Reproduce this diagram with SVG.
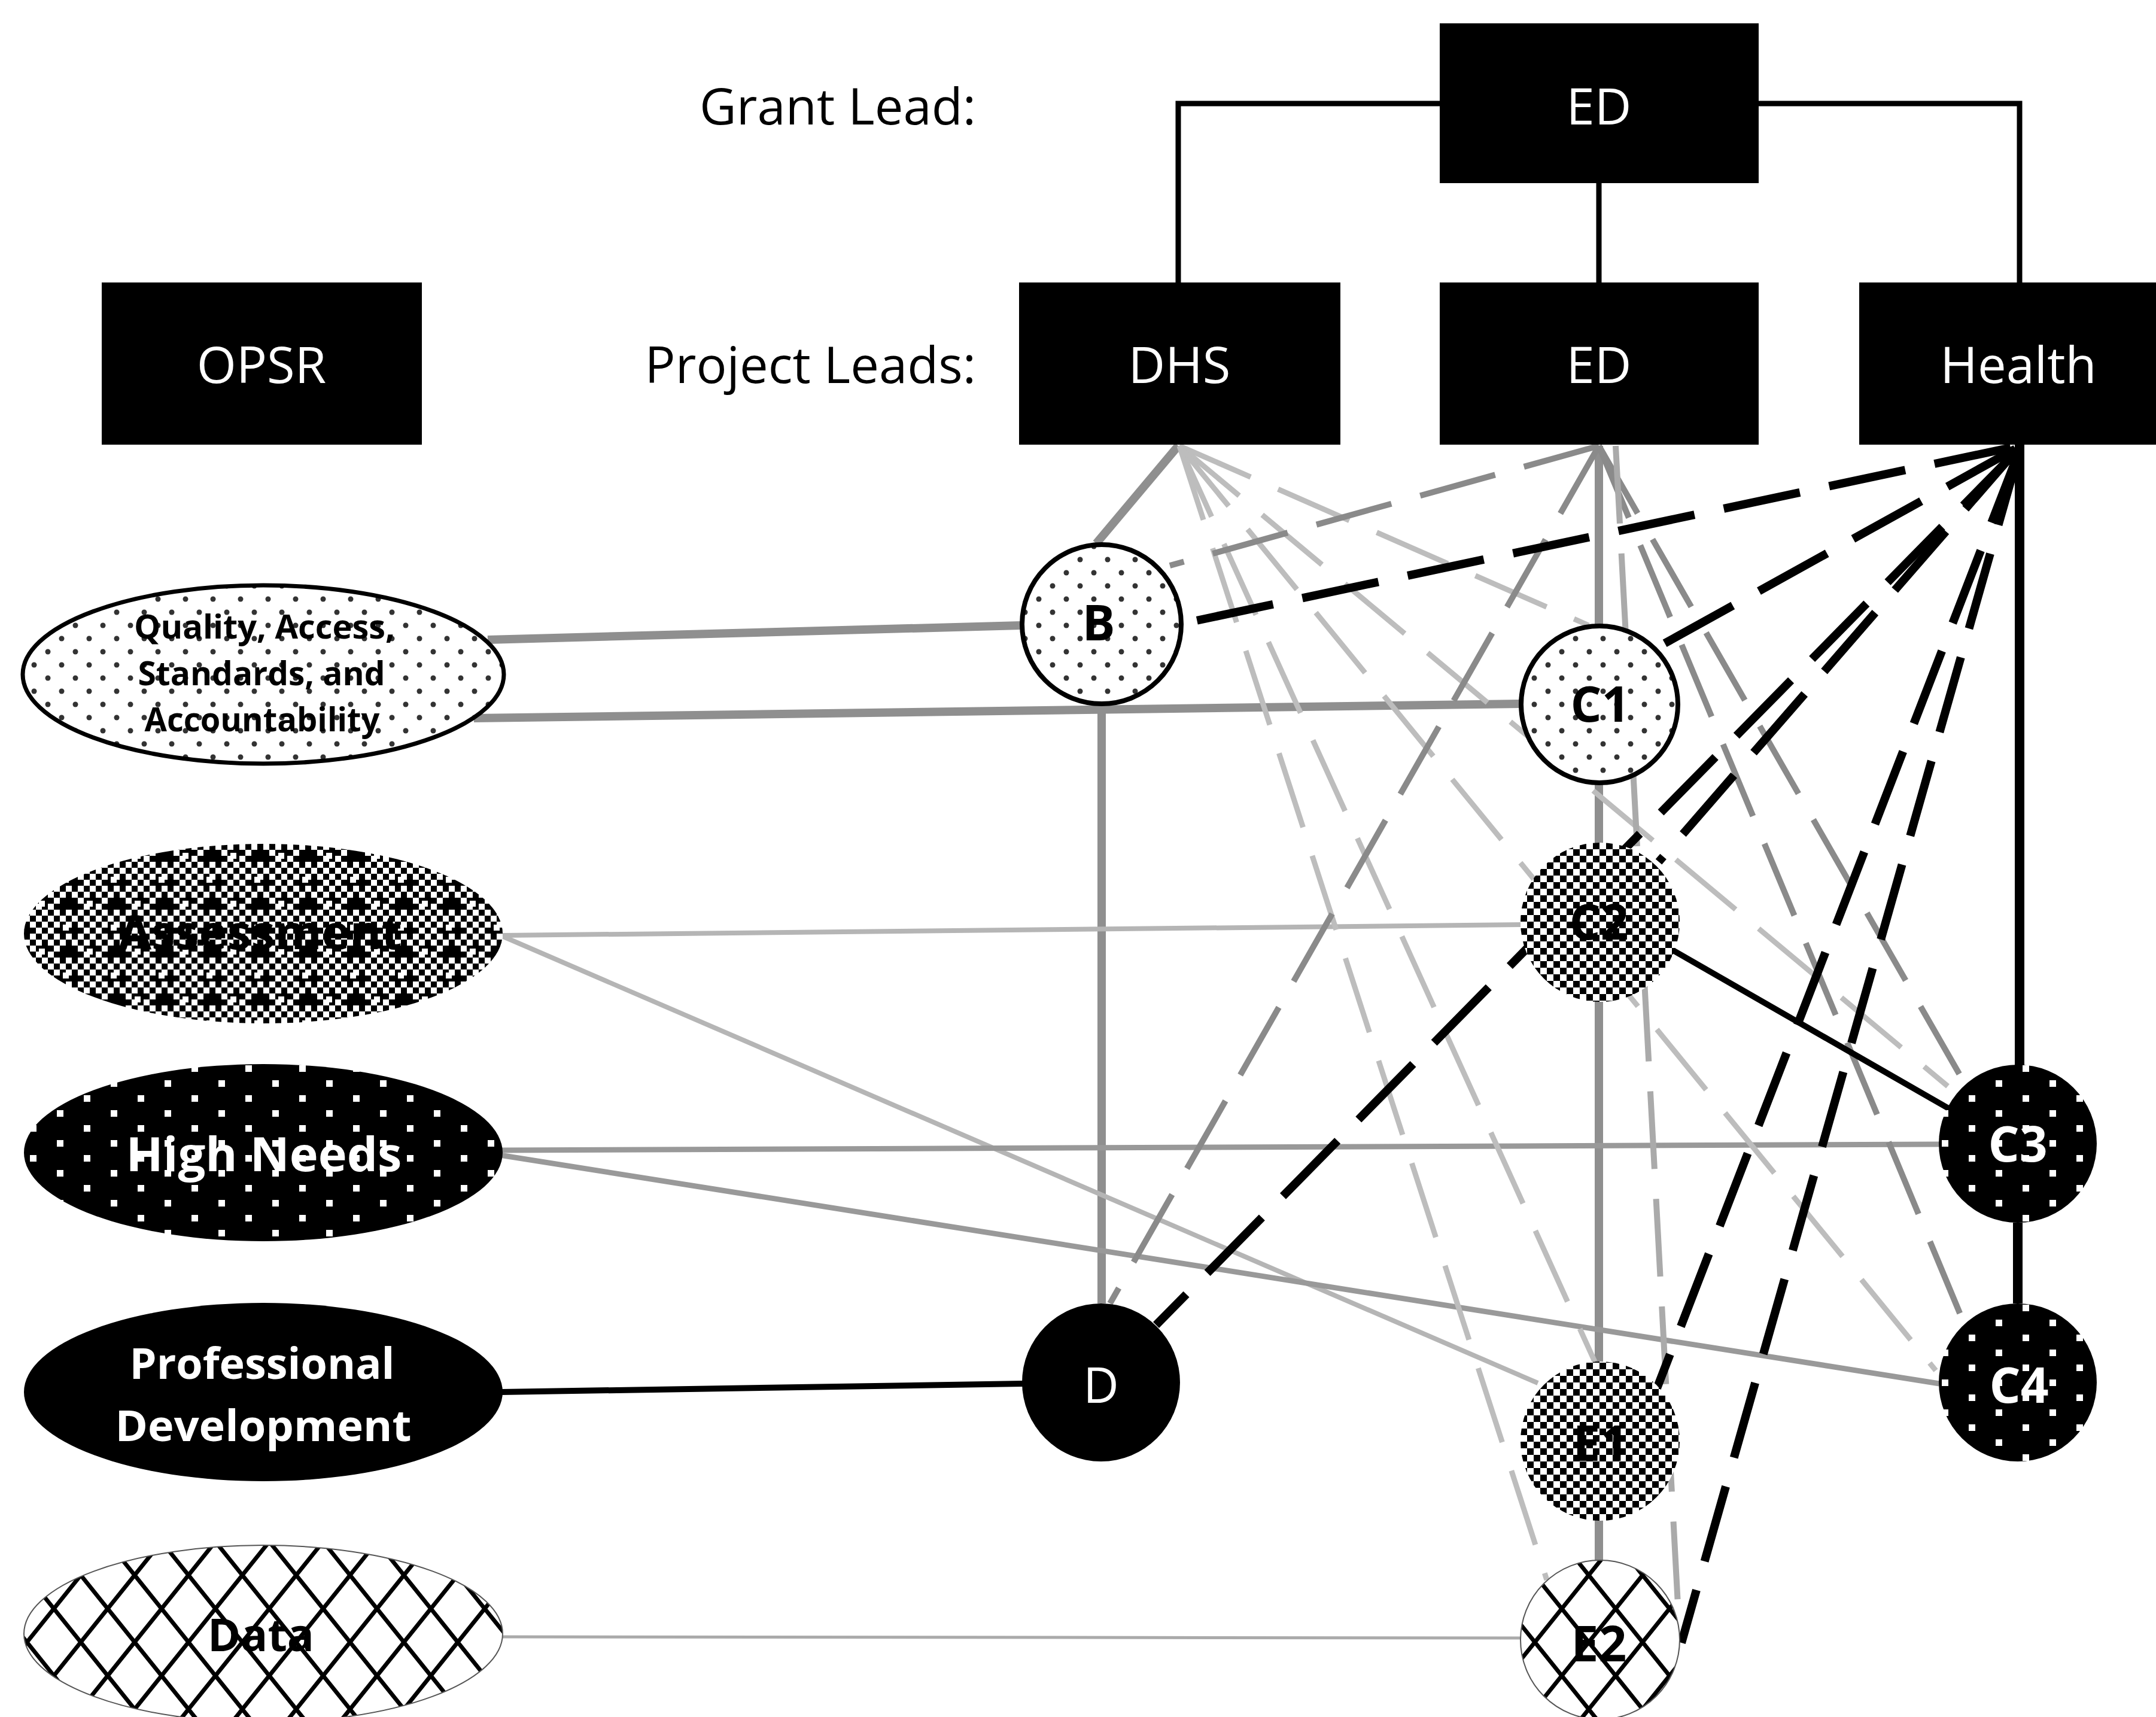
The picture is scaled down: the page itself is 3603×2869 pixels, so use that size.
<svg xmlns="http://www.w3.org/2000/svg" width="3603" height="2869" viewBox="0 0 3603 2869">
<style>
.lbl{font-family:"Open Sans","Liberation Sans",sans-serif;font-size:85px;fill:#000}
.box{fill:#000}
.boxt{font-family:"Open Sans","Liberation Sans",sans-serif;font-size:85px;fill:#fff;text-anchor:middle}
.et{font-family:"Open Sans","Liberation Sans",sans-serif;font-weight:bold;text-anchor:middle}
.ct{font-family:"Open Sans","Liberation Sans",sans-serif;font-weight:bold;font-size:82px;text-anchor:middle}
.tree{stroke:#000;stroke-width:9;fill:none}
.gs{stroke:#8f8f8f;stroke-width:14;fill:none}
.gl{stroke:#b5b5b5;stroke-width:8;fill:none}
.gm{stroke:#999;stroke-width:9;fill:none}
.bs{stroke:#000;fill:none}
.bd{stroke:#000;stroke-width:14;stroke-dasharray:130 50;fill:none}
.ged{stroke:#8a8a8a;stroke-width:10;stroke-dasharray:130 50;fill:none}
.gdh{stroke:#bdbdbd;stroke-width:9;stroke-dasharray:130 50;fill:none}
</style>
<defs>
<pattern id="dots" width="46" height="44" patternUnits="userSpaceOnUse">
<rect width="46" height="44" fill="#fff"/>
<circle cx="11" cy="11" r="4.5" fill="#333"/>
<circle cx="34" cy="33" r="4.5" fill="#333"/>
</pattern>
<pattern id="wdots" width="90" height="50" patternUnits="userSpaceOnUse">
<rect width="90" height="50" fill="#000"/>
<rect x="5" y="5" width="11" height="11" fill="#fff"/>
<rect x="50" y="30" width="11" height="11" fill="#fff"/>
</pattern>
<pattern id="check" width="22" height="22" patternUnits="userSpaceOnUse">
<rect width="22" height="22" fill="#fff"/>
<rect width="11" height="11" fill="#000"/>
<rect x="11" y="11" width="11" height="11" fill="#000"/>
</pattern>
<pattern id="check2" width="80" height="80" patternUnits="userSpaceOnUse">
<rect width="80" height="80" fill="#000"/>
<path d="M10,0h10v10h-10z M30,0h10v10h-10z M50,0h10v10h-10z M70,0h10v10h-10z M0,10h10v10h-10z M20,10h10v10h-10z M40,10h10v10h-10z M60,10h10v10h-10z M10,20h10v10h-10z M50,20h10v10h-10z M0,30h10v10h-10z M60,30h10v10h-10z M10,40h10v10h-10z M30,40h10v10h-10z M50,40h10v10h-10z M70,40h10v10h-10z M0,50h10v10h-10z M20,50h10v10h-10z M40,50h10v10h-10z M60,50h10v10h-10z M10,60h10v10h-10z M50,60h10v10h-10z M0,70h10v10h-10z M60,70h10v10h-10z" fill="#fff"/>
<path d="M25,25h10v10h-10z M30,20h10v10h-10z M70,20h10v10h-10z M65,65h10v10h-10z" fill="#fff"/>
</pattern>
<pattern id="lattice" width="90" height="112" patternUnits="userSpaceOnUse">
<rect width="90" height="112" fill="#fff"/>
<path d="M0,0 L90,112 M90,0 L0,112" stroke="#000" stroke-width="7"/>
</pattern>
</defs>
<rect width="3603" height="2869" fill="#fff"/>

<g id="connectors">
<path class="tree" d="M1969,472 V173 H2406 M2939,173 H3375 V472 M2672,306 V472"/>
<path class="gs" d="M1969,745 L1832,908"/>
<path class="gs" d="M815,1069 L1706,1045"/>
<path class="gs" d="M792,1200 L2540,1176"/>
<path class="gs" d="M1841,1178 V2178"/>
<path class="gs" d="M2672,745 V2607"/>
<path class="gl" d="M840,1563 L2541,1545"/>
<path class="gl" d="M841,1565 L2570,2311"/>
<path class="gl" d="M838,2735 L2541,2737" style="stroke-width:5;stroke:#aaa"/>
<path class="gm" d="M838,1922 L3241,1912"/>
<path class="gm" d="M835,1930 L3241,2312"/>
<path class="gdh" d="M1971,745 L2655,1045"/>
<path class="gdh" d="M1971,745 L3255,1815"/>
<path class="gdh" d="M1971,745 L3235,2290"/>
<path class="gdh" d="M1971,745 L2665,2275"/>
<path class="gdh" d="M1971,745 L2585,2640"/>
<path class="ged" d="M2672,745 L1955,945"/>
<path class="ged" d="M2672,745 L1855,2178"/>
<path class="ged" d="M2672,745 L3282,1808"/>
<path class="ged" d="M2672,745 L3285,2218"/>
<path class="ged" d="M2700,745 L2805,2700" style="stroke:#aaa"/>
<path class="bs" style="stroke-width:10" d="M838,2326 L1709,2312"/>
<path class="bs" style="stroke-width:16" d="M3375,743 V1780"/>
<path class="bs" style="stroke-width:16" d="M3372,2043 V2178"/>
<path class="bs" style="stroke-width:10" d="M2796,1588 L3258,1853"/>
<path class="bd" d="M3360,748 L1985,1040"/>
<path class="bd" d="M3368,750 L2782,1075"/>
<path class="bd" d="M3370,752 L2772,1440"/>
<path class="bd" d="M3372,752 L1932,2214"/>
<path class="bd" d="M3375,752 L2765,2330"/>
<path class="bd" d="M3375,752 L2810,2745"/>
</g>

<text class="lbl" x="1631" y="208" text-anchor="end">Grant Lead:</text>
<text class="lbl" x="1631" y="640" text-anchor="end">Project Leads:</text>

<g id="grant-ed"><rect class="box" x="2406" y="39" width="533" height="267"/><text class="boxt" x="2672" y="208">ED</text></g>
<g id="opsr"><rect class="box" x="170" y="472" width="535" height="271"/><text class="boxt" x="437" y="640">OPSR</text></g>
<g id="dhs"><rect class="box" x="1703" y="472" width="537" height="271"/><text class="boxt" x="1971" y="640">DHS</text></g>
<g id="project-ed"><rect class="box" x="2406" y="472" width="533" height="271"/><text class="boxt" x="2672" y="640">ED</text></g>
<g id="health"><rect class="box" x="3107" y="472" width="533" height="271"/><text class="boxt" x="3373" y="640">Health</text></g>

<g id="quality"><ellipse cx="440" cy="1127" rx="402" ry="149" fill="url(#dots)" stroke="#000" stroke-width="7"/>
<text class="et" x="442" y="1067" font-size="56" textLength="436" lengthAdjust="spacingAndGlyphs">Quality, Access,</text>
<text class="et" x="437" y="1145" font-size="56" textLength="413" lengthAdjust="spacingAndGlyphs">Standards, and</text>
<text class="et" x="438" y="1222" font-size="56" textLength="393" lengthAdjust="spacingAndGlyphs">Accountability</text></g>
<g id="assessment"><ellipse cx="440" cy="1560" rx="400" ry="150" fill="url(#check2)"/>
<text class="et" x="435" y="1586" font-size="78" textLength="474" lengthAdjust="spacingAndGlyphs">Assessment</text></g>
<g id="high-needs"><ellipse cx="440" cy="1926" rx="400" ry="148" fill="url(#wdots)"/>
<text class="et" x="441" y="1957" font-size="78" fill="#fff" textLength="461" lengthAdjust="spacingAndGlyphs">High Needs</text></g>
<g id="prof-dev"><ellipse cx="440" cy="2326" rx="400" ry="149" fill="#000"/>
<text class="et" x="438" y="2304" font-size="72" fill="#fff" textLength="443" lengthAdjust="spacingAndGlyphs">Professional</text>
<text class="et" x="440" y="2408" font-size="72" fill="#fff" textLength="495" lengthAdjust="spacingAndGlyphs">Development</text></g>
<g id="data"><ellipse cx="440" cy="2730" rx="400" ry="148" fill="url(#lattice)" stroke="#555" stroke-width="2"/>
<text class="et" x="436" y="2759" font-size="75" textLength="178" lengthAdjust="spacingAndGlyphs">Data</text></g>

<g id="B"><circle cx="1841" cy="1043" r="133" fill="url(#dots)" stroke="#000" stroke-width="8"/><text class="ct" x="1836" y="1070">B</text></g>
<g id="C1"><circle cx="2673" cy="1177" r="131" fill="url(#dots)" stroke="#000" stroke-width="8"/><text class="ct" x="2674" y="1206">C1</text></g>
<g id="C2"><circle cx="2674" cy="1541" r="133" fill="url(#check)"/><text class="ct" x="2672" y="1570">C2</text></g>
<g id="C3"><circle cx="3372" cy="1911" r="132" fill="url(#wdots)"/><text class="ct" x="3372" y="1941" fill="#fff">C3</text></g>
<g id="C4"><circle cx="3372" cy="2310" r="132" fill="url(#wdots)"/><text class="ct" x="3374" y="2344" fill="#fff">C4</text></g>
<g id="D"><circle cx="1840" cy="2310" r="132" fill="#000"/><text class="boxt" x="1840" y="2344" style="font-size:82px">D</text></g>
<g id="E1"><circle cx="2674" cy="2408" r="133" fill="url(#check)"/><text class="ct" x="2675" y="2441">E1</text></g>
<g id="E2"><circle cx="2674" cy="2740" r="133" fill="url(#lattice)" stroke="#555" stroke-width="2"/><text class="ct" x="2672" y="2776">E2</text></g>
</svg>
